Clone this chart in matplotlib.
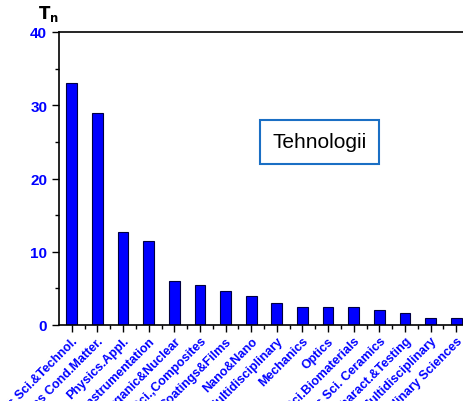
import matplotlib.pyplot as plt
from matplotlib.ticker import MultipleLocator

categories = [
    "Materials Sci.&Technol.", "Physics Cond.Matter.", "Physics.Appl.",
    "Instruments&Instrumentation", "Chem.Inorganic&Nuclear",
    "Materials Sci.,Composites", "Coatings&Films", "Nano&Nano",
    "Chem.Multidisciplinary", "Mechanics", "Optics",
    "Materials Sci.Biomaterials", "Materials Sci. Ceramics",
    "Materials Sci. Charact.&Testing", "Materials Multidisciplinary",
    "Multidisciplinary Sciences",
]
values = [33, 28.9, 12.7, 11.4, 6.0, 5.4, 4.6, 4.0, 3.0, 2.5, 2.5, 2.5, 2.0, 1.6, 1.0, 1.0]

plt.rcParams['font.family'] = ['Liberation Sans', 'DejaVu Sans']

fig = plt.figure(figsize=(4.63, 4.02), dpi=100)
ax = fig.add_axes([59 / 463, 1 - 326 / 402, 410 / 463, 293 / 402])

pos = list(range(1, len(values) + 1))
ax.bar(pos, values, width=0.42, color="#0000ff", edgecolor="#000040", linewidth=0.8)

ax.set_xlim(0.5, 16.5)
ax.set_ylim(0, 40)
ax.set_xticks(pos)
# long category names run off the bottom edge, as in the original figure
ax.set_xticklabels(categories, rotation=45, ha="right", rotation_mode="anchor",
                   fontsize=9, fontweight="bold", color="#0000ff")
ax.set_xticks([p + 0.5 for p in pos[:-1]], minor=True)
ax.yaxis.set_major_locator(MultipleLocator(10))
ax.yaxis.set_minor_locator(MultipleLocator(5))
for lab in ax.get_yticklabels():
    lab.set_fontweight("bold")
    lab.set_color("#0000ff")
    lab.set_fontsize(11)

ax.tick_params(axis="both", which="major", direction="out", length=5, width=1, top=False, right=False)
ax.tick_params(axis="both", which="minor", direction="out", length=3, width=1, top=False, right=False)
ax.tick_params(axis="x", pad=2)
ax.spines["right"].set_visible(False)
for s in ["left", "bottom", "top"]:
    ax.spines[s].set_linewidth(1.2)

fig.text(38 / 463, 1 - 14 / 402, r"$\mathbf{T_n}$", fontsize=12, ha="left", va="center")

ax.text(0.635, 0.625, "Tehnologii", transform=ax.transAxes, fontsize=15, ha="center", va="center",
        bbox=dict(boxstyle="square,pad=0.6", facecolor="white", edgecolor="#1a6fc4", linewidth=1.5))

fig.savefig("out.png", dpi=100)
